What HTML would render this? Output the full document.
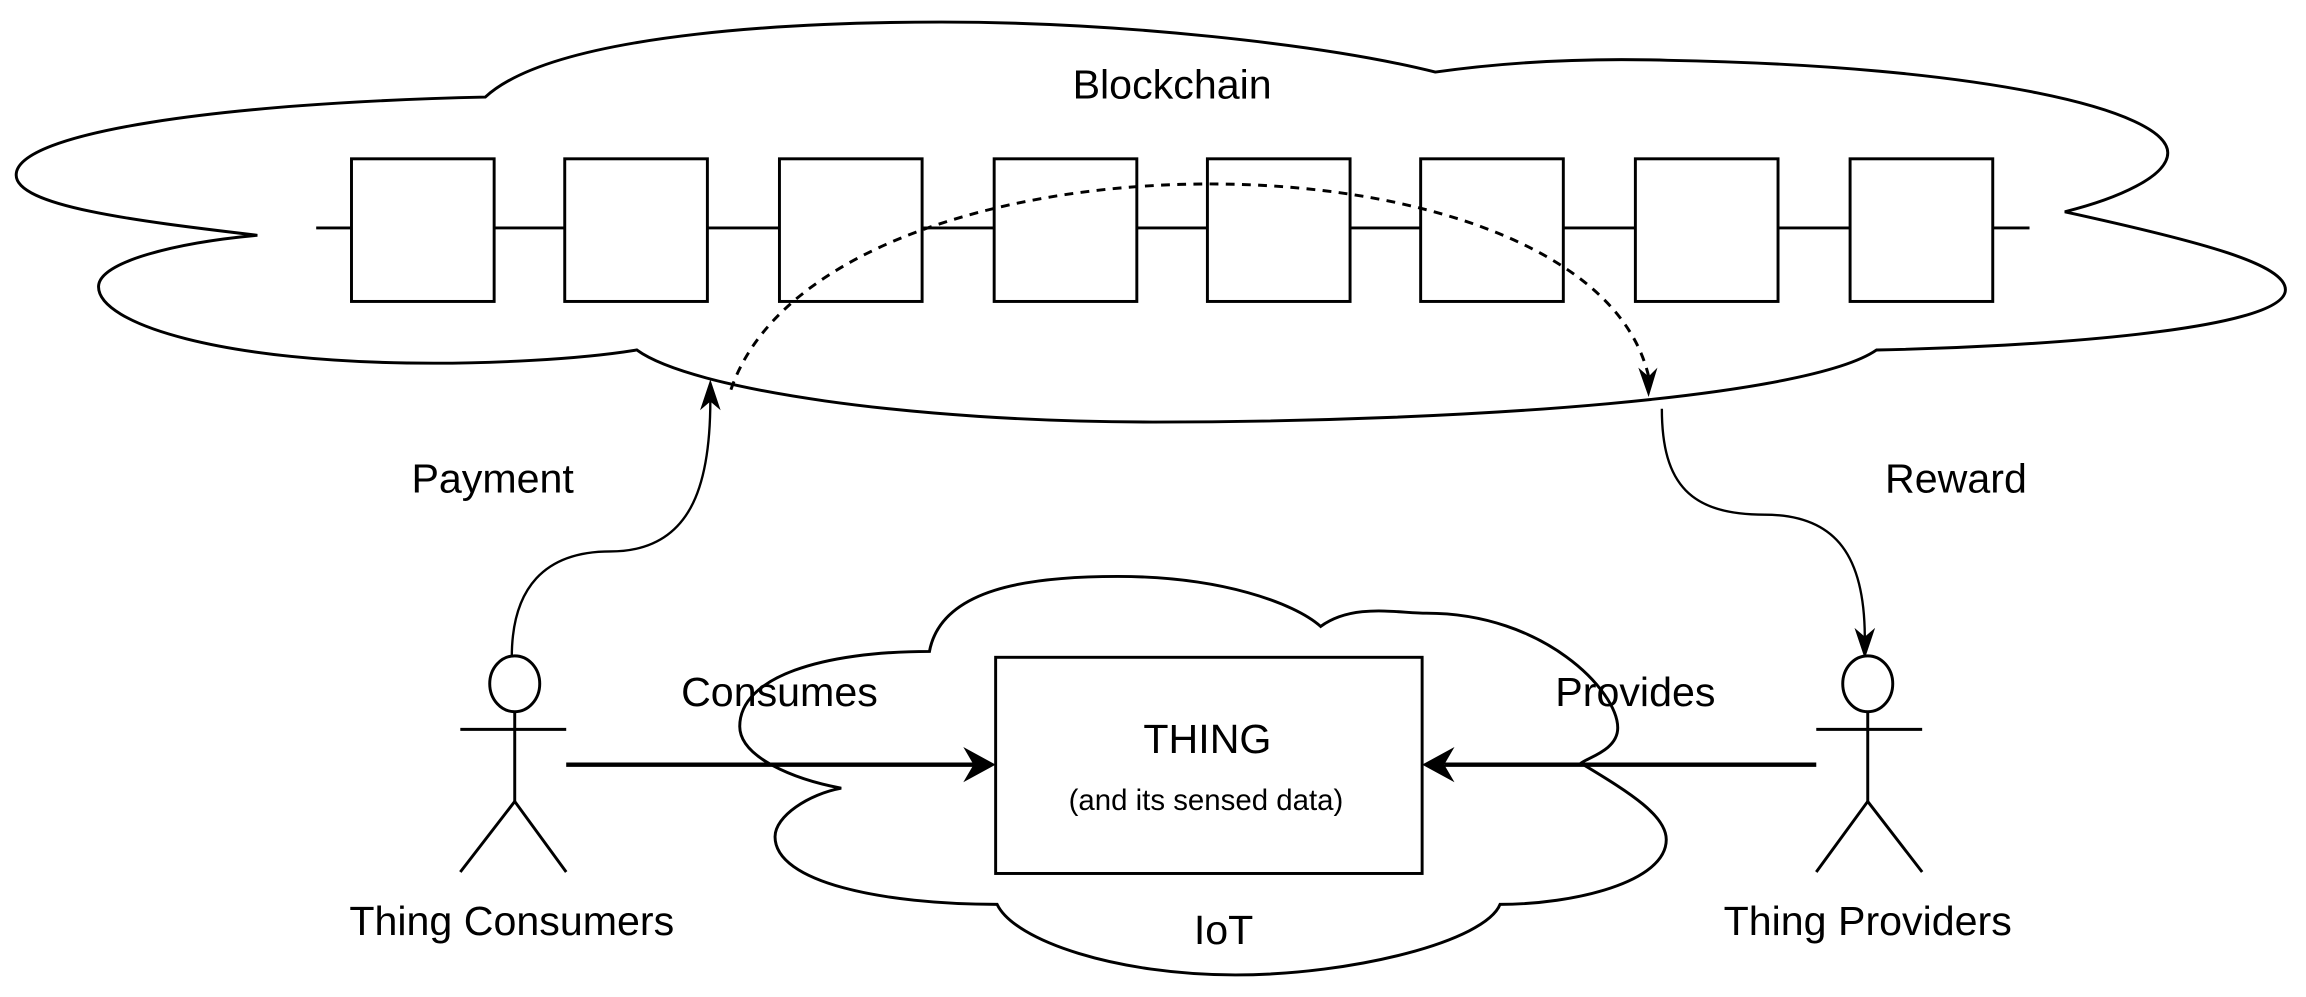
<!DOCTYPE html>
<html><head><meta charset="utf-8"><style>
html,body{margin:0;padding:0;background:#fff;}
svg{display:block;}
text{font-family:"Liberation Sans",Arial,sans-serif;fill:#000;}
</style></head><body>
<svg width="2306" height="997" viewBox="0 0 1568 678" preserveAspectRatio="none" xmlns="http://www.w3.org/2000/svg">
<rect width="1568" height="678" fill="#fff"/>
<path d="M175,160 C90,150 11,140 11,119 C11,90 150,70 330,66 C380,20 560,15 640,15 C760,15 900,30 976,49 C1040,40 1100,40 1134,41 C1350,45 1474,75 1474,104 C1474,120 1440,135 1404,144 C1500,165 1554,180 1554,197 C1554,225 1380,236 1276,238 C1230,270 1000,287 784,287 C620,287 470,265 433,238 C390,245 330,247 295,247 C150,247 67,220 67,195 C67,178 120,165 175,160 Z" fill="#fff" stroke="#000" stroke-width="2"/>
<text x="797" y="67" font-size="28" text-anchor="middle">Blockchain</text>
<line x1="215" y1="155" x2="1380" y2="155" stroke="#000" stroke-width="2"/>
<g fill="#fff" stroke="#000" stroke-width="2">
<rect x="239" y="108" width="97" height="97"/>
<rect x="384" y="108" width="97" height="97"/>
<rect x="530" y="108" width="97" height="97"/>
<rect x="676" y="108" width="97" height="97"/>
<rect x="821" y="108" width="97" height="97"/>
<rect x="966" y="108" width="97" height="97"/>
<rect x="1112" y="108" width="97" height="97"/>
<rect x="1258" y="108" width="97" height="97"/>
</g>
<path d="M497,265 C560,80 1080,80 1121,256" fill="none" stroke="#000" stroke-width="2" stroke-dasharray="6,5"/>
<polygon points="1114,250 1121,270 1127,250 1121,256" fill="#000"/>
<path d="M348,447 C348,400 370,375 415,375 C470,375 483,330 483,272" fill="none" stroke="#000" stroke-width="1.6"/>
<polygon points="483,258 476,279 483,273 490,279" fill="#000"/>
<text x="335" y="335" font-size="28" text-anchor="middle">Payment</text>
<path d="M1130,278 C1130,330 1150,350 1200,350 C1250,350 1268,380 1268,434" fill="none" stroke="#000" stroke-width="1.6"/>
<polygon points="1268,448 1261,427 1268,433 1275,427" fill="#000"/>
<text x="1330" y="335" font-size="28" text-anchor="middle">Reward</text>
<path d="M632,443 C640,400 700,392 760,392 C830,392 880,410 898,426 C920,410 950,417 970,417 C1050,417 1100,470 1100,495 C1100,510 1080,515 1075,519 C1110,540 1133,555 1133,571 C1133,600 1070,615 1020,615 C1010,640 920,663 840,663 C760,663 690,640 678,615 C600,615 527,600 527,569 C527,555 550,540 572,536 C540,530 503,515 503,494 C503,460 560,443 632,443 Z" fill="#fff" stroke="#000" stroke-width="2"/>
<text x="832" y="642" font-size="28" text-anchor="middle">IoT</text>
<rect x="677" y="447" width="290" height="147" fill="#fff" stroke="#000" stroke-width="2"/>
<text x="821" y="512" font-size="28" text-anchor="middle">THING</text>
<text x="820" y="551" font-size="20" text-anchor="middle">(and its sensed data)</text>
<line x1="385" y1="520" x2="662" y2="520" stroke="#000" stroke-width="3"/>
<polygon points="677,520 655,508 662,520 655,532" fill="#000"/>
<line x1="1235" y1="520" x2="982" y2="520" stroke="#000" stroke-width="3"/>
<polygon points="967,520 989,508 982,520 989,532" fill="#000"/>
<text x="530" y="480" font-size="28" text-anchor="middle">Consumes</text>
<text x="1112" y="480" font-size="28" text-anchor="middle">Provides</text>
<g fill="#fff" stroke="#000" stroke-width="2">
<ellipse cx="350" cy="465" rx="17" ry="19"/>
<line x1="350" y1="484" x2="350" y2="545"/>
<line x1="313" y1="496" x2="385" y2="496"/>
<polyline points="313,593 350,545 385,593" fill="none"/>
<ellipse cx="1270" cy="465" rx="17" ry="19"/>
<line x1="1270" y1="484" x2="1270" y2="545"/>
<line x1="1235" y1="496" x2="1307" y2="496"/>
<polyline points="1235,593 1270,545 1307,593" fill="none"/>
</g>
<text x="348" y="636" font-size="28" text-anchor="middle">Thing Consumers</text>
<text x="1270" y="636" font-size="28" text-anchor="middle">Thing Providers</text>
</svg>
</body></html>
